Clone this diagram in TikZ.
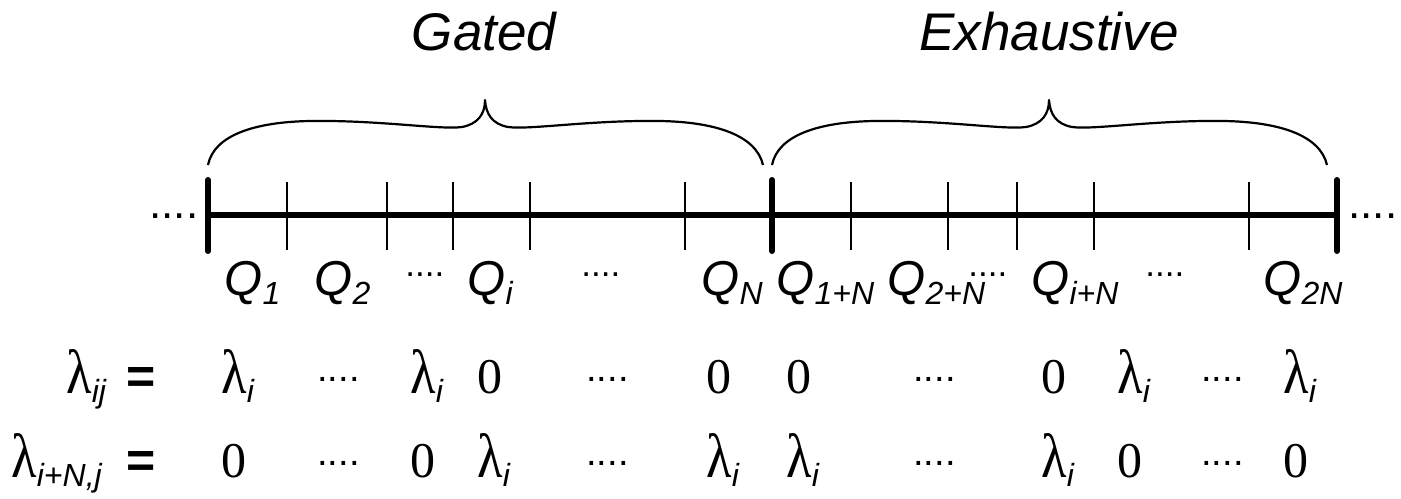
\documentclass[tikz,border=0pt]{standalone}
\usepackage{graphicx}
\usepackage{fontspec}
\setmainfont{Liberation Sans}
\newfontfamily\timesfont{Liberation Serif}
\usetikzlibrary{positioning}
\newcommand{\lowidx}[1]{\raisebox{-4.5pt}{\fontsize{16}{16}\selectfont\itshape #1}}
\newcommand{\lam}{{\timesfont\scalebox{1.05}[1.25]{λ}}}
\newcommand{\zero}{{\timesfont 0}}

\begin{document}
\begin{tikzpicture}[x=0.5pt, y=-0.5pt,
    bar/.style={line width=3pt, line cap=round},
    tick/.style={line width=1pt},
    bracket/.style={line width=1.1pt, line join=round},
    title/.style={anchor=base, inner sep=0pt, font=\fontsize{26.5}{28}\selectfont\itshape},
    qlabel/.style={anchor=base west, inner sep=0pt, font=\fontsize{24.5}{25}\selectfont\itshape},
    rowlabel/.style={anchor=base west, inner sep=0pt, font=\fontsize{25}{26}\selectfont},
    qdots/.style={anchor=base west, inner sep=0pt, font=\fontsize{17.5}{18}\selectfont, yshift=9.5pt},
    rowdots/.style={anchor=base west, inner sep=0pt, font=\fontsize{19}{20}\selectfont, yshift=6pt},
    enddots/.style={anchor=base west, inner sep=0pt, font=\fontsize{22}{23}\selectfont}]
  \useasboundingbox (0,0) rectangle (1401,498);

  \node[title] (gated) at (484,50) {Gated};
  \node[title] (exhaustive) at (1049,50) {Exhaustive};

  \draw[bracket] (208,165) .. controls (214,135) and (255,122) .. (310,121) .. controls (380,120) and (440,130) .. (462,127) .. controls (478,124) and (485,114) .. (485,100) .. controls (486,114) and (492,124) .. (508,127) .. controls (530,130) and (590,120) .. (660,121) .. controls (715,122) and (756,135) .. (763,165);
  \draw[bracket, shift={(564,0)}] (208,165) .. controls (214,135) and (255,122) .. (310,121) .. controls (380,120) and (440,130) .. (462,127) .. controls (478,124) and (485,114) .. (485,100) .. controls (486,114) and (492,124) .. (508,127) .. controls (530,130) and (590,120) .. (660,121) .. controls (715,122) and (756,135) .. (763,165);

  \coordinate (start) at (208,215);
  \coordinate (middle) at (772,215);
  \coordinate (end) at (1337,215);
  \draw[bar] (start) -- (end);
  \draw[bar] (208,180) -- (208,251) (772,180) -- (772,251) (1337,180) -- (1337,251);
  \draw[tick] (287,182) -- (287,250) (387,182) -- (387,250) (453,182) -- (453,250) (530,182) -- (530,250) (685,182) -- (685,250);
  \draw[tick] (851,182) -- (851,250) (948,182) -- (948,250) (1017,182) -- (1017,250) (1094,182) -- (1094,250) (1249,182) -- (1249,250);
  \node[enddots] (dotsl) at (149,218) {....};
  \node[enddots] (dotsr) at (1348,218) {....};

  \node[qlabel] (q1) at (224,295) {Q\lowidx{1}};
  \node[qlabel] (q2) at (314,295) {Q\lowidx{2}};
  \node[qdots] (qd1) at (405,295) {....};
  \node[qlabel] (qi) at (467,295) {Q\lowidx{i}};
  \node[qdots] (qd2) at (581,295) {....};
  \node[qlabel] (qn) at (701,295) {Q\lowidx{N}};
  \node[qlabel] (q1n) at (776,295) {Q\lowidx{1+N}};
  \node[qlabel] (q2n) at (887,295) {Q\lowidx{2+N}};
  \node[qdots] (qd3) at (968,295) {....};
  \node[qlabel] (qin) at (1031,295) {Q\lowidx{i+N}};
  \node[qdots] (qd4) at (1145,295) {....};
  \node[qlabel] (q2nn) at (1263,295) {Q\lowidx{2N}};

  \node[rowlabel] (lij) at (66,393) {\lam\lowidx{ij}};
  \node[rowlabel, font=\fontsize{25}{26}\selectfont\bfseries] (eqa) at (126,393) {=};
  \node[rowlabel] (a1) at (221,393) {\lam\lowidx{i}};
  \node[rowdots] (ad1) at (317,393) {....};
  \node[rowlabel] (a2) at (410,393) {\lam\lowidx{i}};
  \node[rowlabel] (a3) at (477,393) {\zero};
  \node[rowdots] (ad2) at (586,393) {....};
  \node[rowlabel] (a4) at (706,393) {\zero};
  \node[rowlabel] (a5) at (786,393) {\zero};
  \node[rowdots] (ad3) at (913,393) {....};
  \node[rowlabel] (a6) at (1041,393) {\zero};
  \node[rowlabel] (a7) at (1117,393) {\lam\lowidx{i}};
  \node[rowdots] (ad4) at (1201,393) {....};
  \node[rowlabel] (a8) at (1283,393) {\lam\lowidx{i}};

  \node[rowlabel] (linj) at (11,477) {\lam\lowidx{i+N,j}};
  \node[rowlabel, font=\fontsize{25}{26}\selectfont\bfseries] (eqb) at (126,477) {=};
  \node[rowlabel] (b1) at (221,477) {\zero};
  \node[rowdots] (bd1) at (317,477) {....};
  \node[rowlabel] (b2) at (410,477) {\zero};
  \node[rowlabel] (b3) at (477,477) {\lam\lowidx{i}};
  \node[rowdots] (bd2) at (586,477) {....};
  \node[rowlabel] (b4) at (706,477) {\lam\lowidx{i}};
  \node[rowlabel] (b5) at (786,477) {\lam\lowidx{i}};
  \node[rowdots] (bd3) at (913,477) {....};
  \node[rowlabel] (b6) at (1041,477) {\lam\lowidx{i}};
  \node[rowlabel] (b7) at (1117,477) {\zero};
  \node[rowdots] (bd4) at (1201,477) {....};
  \node[rowlabel] (b8) at (1283,477) {\zero};
\end{tikzpicture}
\end{document}
